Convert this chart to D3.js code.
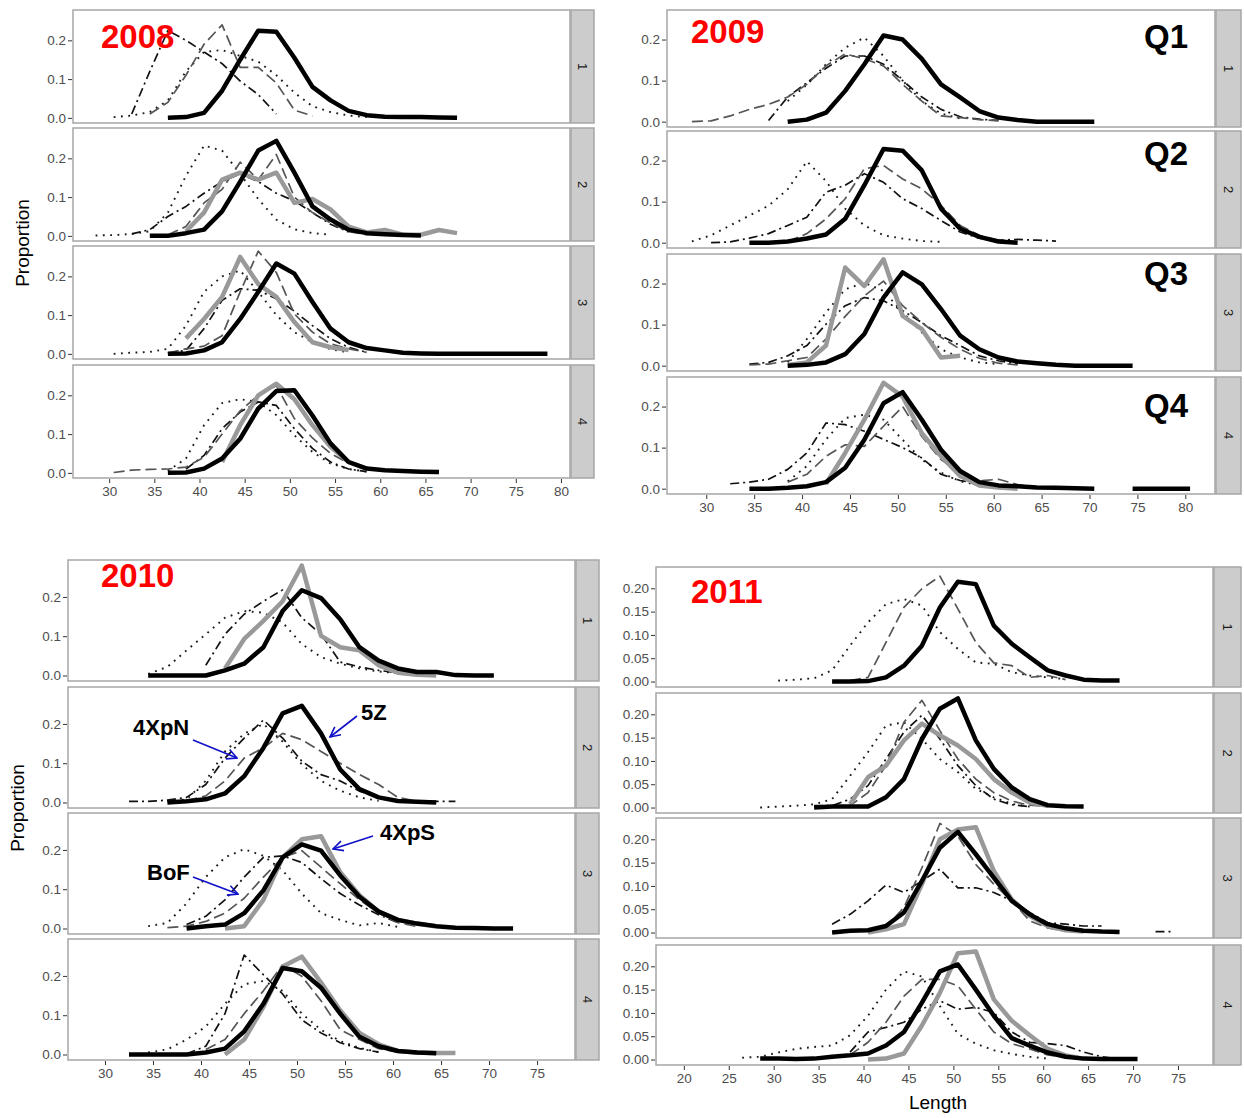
<!DOCTYPE html>
<html>
<head>
<meta charset="utf-8">
<script src="https://d3js.org/d3.v7.min.js"></script>
<title>Length frequency by quarter, 2008-2011</title>
<style>
  body { margin: 0; background: #fff; }
  text { font-family: "Liberation Sans", Arial, sans-serif; }
</style>
</head>
<body>
<div id="chart"></div>
<script>
// each row: [region, first 2-cm bin midpoint, proportions per bin] (null = no data)
var q2008_1 = [
  ["Other", 30.5, [0.002, 0.006, 0.015, 0.045, 0.12, 0.17, 0.175, 0.16, 0.145, 0.11, 0.065, 0.03, 0.015, 0.006, 0.002]],
  ["BoF", 32.5, [0.01, 0.12, 0.225, 0.2, 0.17, 0.14, 0.095, 0.06, 0.01]],
  ["4XpN", 34.5, [0.01, 0.04, 0.11, 0.19, 0.24, 0.13, 0.13, 0.09, 0.02, 0.005]],
  ["5Z", 36.5, [0, 0.002, 0.013, 0.07, 0.15, 0.225, 0.222, 0.155, 0.08, 0.045, 0.018, 0.007, 0.003, 0.002, 0.002, 0.001, 0]]
];
var q2008_2 = [
  ["Other", 28.5, [0.001, 0.002, 0.005, 0.012, 0.06, 0.155, 0.233, 0.22, 0.16, 0.095, 0.042, 0.017, 0.007, 0.003]],
  ["BoF", 32.5, [0.005, 0.016, 0.05, 0.076, 0.11, 0.14, 0.16, 0.14, 0.11, 0.09, 0.06, 0.03, 0.01]],
  ["4XpN", 36.5, [0.003, 0.024, 0.085, 0.12, 0.19, 0.145, 0.21, 0.1, 0.06, 0.033, 0.011, 0.003]],
  ["4XpS", 38.5, [0.012, 0.06, 0.145, 0.163, 0.145, 0.163, 0.085, 0.095, 0.068, 0.024, 0.009, 0.015, 0.003, 0.003, 0.015, 0.007]],
  ["5Z", 34.5, [0, 0, 0.007, 0.016, 0.063, 0.14, 0.22, 0.245, 0.163, 0.076, 0.042, 0.016, 0.007, 0.004, 0.002, 0.001]]
];
var q2008_3 = [
  ["Other", 30.5, [0, 0.003, 0.005, 0.013, 0.073, 0.16, 0.2, 0.215, 0.16, 0.1, 0.056, 0.03, 0.012, 0.004]],
  ["BoF", 36.5, [0.002, 0.009, 0.065, 0.138, 0.168, 0.164, 0.142, 0.11, 0.073, 0.039, 0.017, 0.004]],
  ["4XpN", 36.5, [0.002, 0.013, 0.02, 0.047, 0.16, 0.265, 0.21, 0.103, 0.056, 0.026, 0.013, 0.004]],
  ["4XpS", 38.5, [0.04, 0.09, 0.147, 0.25, 0.18, 0.147, 0.082, 0.03, 0.017, 0.01]],
  ["5Z", 36.5, [0, 0.001, 0.009, 0.03, 0.09, 0.16, 0.233, 0.207, 0.134, 0.065, 0.03, 0.015, 0.009, 0.003, 0.001, 0, 0, 0, 0, 0, 0, 0]]
];
var q2008_4 = [
  ["Other", 36.5, [0.005, 0.037, 0.123, 0.18, 0.19, 0.183, 0.149, 0.097, 0.054, 0.024, 0.01, 0.003]],
  ["BoF", 38.5, [0.01, 0.045, 0.114, 0.157, 0.183, 0.174, 0.114, 0.063, 0.028, 0.01, 0.003]],
  ["4XpN", 30.5, [0.001, 0.007, 0.009, 0.01, 0.015, 0.04, 0.1, 0.16, 0.2, 0.225, 0.14, 0.09, 0.05, 0.025, 0.01]],
  ["4XpS", 42.5, [0.028, 0.123, 0.2, 0.23, 0.19, 0.123, 0.067, 0.028, 0.011]],
  ["5Z", 36.5, [0, 0.001, 0.011, 0.037, 0.088, 0.166, 0.211, 0.213, 0.148, 0.076, 0.028, 0.011, 0.007, 0.005, 0.003, 0.002]]
];

var q2009_1 = [
  ["Other", 38.5, [0.05, 0.09, 0.14, 0.18, 0.205, 0.16, 0.1, 0.05, 0.02, 0.008]],
  ["BoF", 36.5, [0.003, 0.06, 0.095, 0.13, 0.16, 0.16, 0.14, 0.1, 0.06, 0.03, 0.012, 0.006, 0.003]],
  ["4XpN", 28.5, [0, 0.002, 0.014, 0.03, 0.042, 0.06, 0.091, 0.136, 0.165, 0.153, 0.136, 0.091, 0.05, 0.014, 0.01, 0.005, 0.002]],
  ["5Z", 38.5, [0, 0.005, 0.022, 0.075, 0.14, 0.21, 0.2, 0.153, 0.091, 0.059, 0.026, 0.01, 0.004, 0, 0, 0, 0]]
];
var q2009_2 = [
  ["Other", 28.5, [0.003, 0.018, 0.042, 0.066, 0.09, 0.13, 0.198, 0.15, 0.083, 0.042, 0.018, 0.01, 0.004, 0.002]],
  ["BoF", 30.5, [0, 0.002, 0.011, 0.022, 0.042, 0.062, 0.123, 0.14, 0.168, 0.147, 0.107, 0.083, 0.054, 0.026, 0.011, 0.006, 0.008, 0.006, 0.004]],
  ["4XpN", 38.5, [0.003, 0.022, 0.058, 0.107, 0.18, 0.188, 0.155, 0.131, 0.091, 0.042, 0.018, 0.006, 0.002]],
  ["5Z", 34.5, [0, 0, 0.003, 0.01, 0.02, 0.058, 0.14, 0.228, 0.224, 0.176, 0.083, 0.034, 0.014, 0.003, 0]]
];
var q2009_3 = [
  ["Other", 38.5, [0.008, 0.065, 0.13, 0.186, 0.202, 0.182, 0.13, 0.081, 0.04, 0.02, 0.008, 0.004]],
  ["BoF", 34.5, [0.004, 0.008, 0.024, 0.049, 0.101, 0.146, 0.166, 0.158, 0.134, 0.105, 0.073, 0.049, 0.024, 0.012, 0.004]],
  ["4XpN", 34.5, [0.002, 0.004, 0.012, 0.02, 0.065, 0.12, 0.17, 0.206, 0.146, 0.105, 0.069, 0.04, 0.018, 0.006, 0.002]],
  ["4XpS", 38.5, [0.002, 0.008, 0.049, 0.239, 0.194, 0.259, 0.121, 0.089, 0.02, 0.024]],
  ["5Z", 38.5, [0, 0.002, 0.008, 0.028, 0.077, 0.166, 0.227, 0.198, 0.138, 0.073, 0.04, 0.02, 0.01, 0.006, 0.002, 0, 0, 0, 0]]
];
var q2009_4 = [
  ["Other", 38.5, [0.018, 0.055, 0.12, 0.172, 0.18, 0.168, 0.119, 0.071, 0.039, 0.018, 0.008, 0.003]],
  ["BoF", 32.5, [0.012, 0.016, 0.023, 0.047, 0.087, 0.16, 0.156, 0.14, 0.12, 0.1, 0.075, 0.035, 0.02, 0.012, 0.006]],
  ["4XpN", 38.5, [0.016, 0.035, 0.079, 0.107, 0.103, 0.152, 0.2, 0.127, 0.071, 0.039, 0.019, 0.023, 0.01, 0.003]],
  ["4XpS", 42.5, [0.012, 0.087, 0.168, 0.258, 0.224, 0.135, 0.079, 0.031, 0.008, 0.003, 0]],
  ["5Z", 34.5, [0, 0, 0.002, 0.006, 0.016, 0.051, 0.119, 0.208, 0.235, 0.168, 0.095, 0.043, 0.016, 0.008, 0.006, 0.003, 0.002, 0.001, 0, null, 0, 0, 0, 0]]
];

var q2010_1 = [
  ["Other", 34.5, [0.004, 0.022, 0.064, 0.105, 0.147, 0.164, 0.16, 0.135, 0.08, 0.047, 0.03, 0.018, 0.01, 0.006, 0.003]],
  ["BoF", 40.5, [0.026, 0.105, 0.156, 0.189, 0.218, 0.147, 0.105, 0.034, 0.022, 0.013, 0.007, 0.004]],
  ["4XpS", 42.5, [0.018, 0.093, 0.139, 0.189, 0.28, 0.101, 0.072, 0.064, 0.026, 0.007, 0.002, 0]],
  ["5Z", 34.5, [0, 0, 0, 0, 0.013, 0.03, 0.072, 0.164, 0.217, 0.197, 0.143, 0.072, 0.038, 0.018, 0.009, 0.009, 0.001, 0, 0]]
];
var q2010_2 = [
  ["Other", 36.5, [0.003, 0.008, 0.055, 0.13, 0.175, 0.2, 0.155, 0.097, 0.055, 0.03, 0.013, 0.004]],
  ["BoF", 32.5, [0.003, 0.003, 0.006, 0.013, 0.046, 0.113, 0.164, 0.21, 0.164, 0.105, 0.071, 0.055, 0.029, 0.013, 0.006, 0.003, 0.003, 0.003]],
  ["4XpN", 38.5, [0.004, 0.017, 0.055, 0.113, 0.139, 0.176, 0.16, 0.13, 0.1, 0.071, 0.046, 0.013, 0.003]],
  ["5Z", 36.5, [0, 0.003, 0.008, 0.023, 0.067, 0.139, 0.227, 0.246, 0.176, 0.084, 0.034, 0.013, 0.004, 0.002, 0]]
];
var q2010_3 = [
  ["Other", 34.5, [0.006, 0.014, 0.064, 0.131, 0.181, 0.202, 0.185, 0.148, 0.089, 0.039, 0.022, 0.008, 0.014, 0.004]],
  ["BoF", 38.5, [0.01, 0.031, 0.073, 0.131, 0.181, 0.185, 0.168, 0.127, 0.089, 0.06, 0.035, 0.015]],
  ["4XpN", 36.5, [0.002, 0.006, 0.018, 0.039, 0.077, 0.131, 0.181, 0.198, 0.156, 0.114, 0.073, 0.039, 0.015, 0.005]],
  ["4XpS", 42.5, [0, 0.006, 0.073, 0.181, 0.227, 0.235, 0.143, 0.085, 0.043, 0.022, 0.012, 0.005]],
  ["5Z", 38.5, [0, 0.006, 0.01, 0.039, 0.097, 0.181, 0.214, 0.198, 0.135, 0.081, 0.043, 0.022, 0.0125, 0.006, 0.002, 0.001, 0, 0]]
];
var q2010_4 = [
  ["Other", 34.5, [0.005, 0.013, 0.038, 0.071, 0.129, 0.179, 0.187, 0.162, 0.104, 0.063, 0.034, 0.017, 0.006]],
  ["BoF", 38.5, [0.002, 0.021, 0.104, 0.253, 0.203, 0.154, 0.088, 0.055, 0.03, 0.015, 0.006]],
  ["4XpN", 40.5, [0.013, 0.038, 0.104, 0.162, 0.228, 0.199, 0.137, 0.063, 0.038, 0.015, 0.006]],
  ["4XpS", 42.5, [0, 0.038, 0.121, 0.224, 0.249, 0.183, 0.112, 0.055, 0.026, 0.009, 0.005, 0.004, 0.004]],
  ["5Z", 32.5, [0, 0, 0, 0, 0.005, 0.015, 0.059, 0.129, 0.22, 0.212, 0.17, 0.104, 0.045, 0.021, 0.009, 0.005, 0.003]]
];

var q2011_1 = [
  ["Other", 30.5, [0.002, 0.004, 0.007, 0.024, 0.077, 0.127, 0.166, 0.177, 0.163, 0.106, 0.07, 0.041, 0.038, 0.02, 0.013, 0.009, 0.005]],
  ["4XpN", 38.5, [0.002, 0.009, 0.084, 0.159, 0.199, 0.226, 0.156, 0.084, 0.04, 0.034, 0.009, 0.013, 0.004]],
  ["5Z", 36.5, [0, 0, 0.001, 0.009, 0.034, 0.077, 0.159, 0.214, 0.209, 0.12, 0.081, 0.052, 0.024, 0.013, 0.004, 0.002, 0.002]]
];
var q2011_2 = [
  ["Other", 28.5, [0, 0.002, 0.004, 0.007, 0.018, 0.068, 0.119, 0.176, 0.183, 0.147, 0.104, 0.076, 0.04, 0.022, 0.008, 0.002]],
  ["BoF", 34.5, [0.004, 0.004, 0.018, 0.047, 0.104, 0.162, 0.198, 0.147, 0.09, 0.047, 0.018, 0.006, 0.002]],
  ["4XpN", 36.5, [0.001, 0.004, 0.032, 0.09, 0.183, 0.23, 0.165, 0.104, 0.061, 0.032, 0.014, 0.005, 0.002]],
  ["4XpS", 38.5, [0.007, 0.065, 0.09, 0.144, 0.18, 0.155, 0.133, 0.104, 0.061, 0.032, 0.011, 0.004]],
  ["5Z", 34.5, [0, 0.002, 0.002, 0.002, 0.022, 0.061, 0.147, 0.212, 0.234, 0.144, 0.083, 0.043, 0.018, 0.005, 0.003, 0.002]]
];
var q2011_3 = [
  ["BoF", 36.5, [0.018, 0.039, 0.068, 0.102, 0.086, 0.111, 0.136, 0.096, 0.096, 0.086, 0.068, 0.043, 0.021, 0.018, 0.014, 0.014, null, null, 0.002, 0.002]],
  ["4XpN", 40.5, [0.002, 0.011, 0.054, 0.139, 0.234, 0.207, 0.146, 0.104, 0.068, 0.025, 0.01, 0.003]],
  ["4XpS", 40.5, [0, 0.007, 0.018, 0.104, 0.2, 0.221, 0.226, 0.132, 0.071, 0.036, 0.014, 0.005, 0.002]],
  ["5Z", 36.5, [0, 0.004, 0.005, 0.014, 0.043, 0.111, 0.182, 0.216, 0.168, 0.118, 0.068, 0.039, 0.018, 0.009, 0.004, 0.002, 0.001]]
];
var q2011_4 = [
  ["Other", 26.5, [0.004, 0.006, 0.015, 0.023, 0.027, 0.03, 0.052, 0.094, 0.15, 0.189, 0.178, 0.115, 0.055, 0.034, 0.02, 0.012, 0.006, 0.002]],
  ["BoF", 38.5, [0.016, 0.059, 0.069, 0.08, 0.108, 0.126, 0.108, 0.112, 0.101, 0.059, 0.037, 0.034, 0.03, 0.016, 0.006, 0.001]],
  ["4XpN", 38.5, [0.01, 0.037, 0.08, 0.136, 0.172, 0.172, 0.158, 0.108, 0.059, 0.034, 0.023, 0.01, 0.004]],
  ["4XpS", 40.5, [0, 0.002, 0.013, 0.073, 0.143, 0.228, 0.232, 0.129, 0.083, 0.052, 0.023, 0.009, 0.002]],
  ["5Z", 28.5, [0.002, 0.002, 0.001, 0.002, 0.006, 0.009, 0.013, 0.03, 0.059, 0.122, 0.189, 0.204, 0.15, 0.094, 0.046, 0.03, 0.015, 0.006, 0.002, 0.001, 0.001, 0.001]]
];

var years = ["2008", "2009", "2010", "2011"];
var quarterLabels = ["1", "2", "3", "4"];
var xTicks2008 = [30, 35, 40, 45, 50, 55, 60, 65, 70, 75, 80];
var xTicks2010 = [30, 35, 40, 45, 50, 55, 60, 65, 70, 75];
var xTicks2011 = [20, 25, 30, 35, 40, 45, 50, 55, 60, 65, 70, 75];
var yTicksTenth = [0, 0.1, 0.2];
var yTicksTwentieth = [0, 0.05, 0.1, 0.15, 0.2];

// line look per region, drawn in this order
var regionStyle = {
  "Other": { color: "#1a1a1a", width: 1.9, dash: "1.8,5.5" },
  "BoF":   { color: "#111", width: 1.7, dash: "9,4,2,4" },
  "4XpN":  { color: "#555", width: 1.7, dash: "11,5" },
  "4XpS":  { color: "#999", width: 4.5, dash: null },
  "5Z":    { color: "#000", width: 4.5, dash: null }
};
var drawOrder = ["Other", "BoF", "4XpN", "4XpS", "5Z"];

// where each year sits on the page
var blocks = [
  { data: [q2008_1, q2008_2, q2008_3, q2008_4], left: 73, right: 570, tops: [10, 128, 246, 365], h: 113, strip: 23,
    xDomain: [26, 81], xTicks: xTicks2008, yTicks: yTicksTenth, yFmt: ".1f",
    title: { x: 101, y: 48 } },
  { data: [q2009_1, q2009_2, q2009_3, q2009_4], left: 667, right: 1215, tops: [10, 131, 254, 377], h: 117, strip: 25,
    xDomain: [25.9, 83.1], xTicks: xTicks2008, yTicks: yTicksTenth, yFmt: ".1f",
    title: { x: 691, y: 43 }, qLabels: true },
  { data: [q2010_1, q2010_2, q2010_3, q2010_4], left: 68, right: 575, tops: [560, 687, 813, 939], h: 121, strip: 23,
    xDomain: [26.15, 78.95], xTicks: xTicks2010, yTicks: yTicksTenth, yFmt: ".1f",
    title: { x: 101, y: 587 } },
  { data: [q2011_1, q2011_2, q2011_3, q2011_4], left: 656, right: 1213, tops: [567, 693, 818, 945], h: 120, strip: 27,
    xDomain: [16.9, 78.9], xTicks: xTicks2011, yTicks: yTicksTwentieth, yFmt: ".2f",
    title: { x: 691, y: 603 } }
];

var svg = d3.select("#chart").append("svg")
  .attr("width", 1244).attr("height", 1118);

var line = d3.line()
  .defined(function(d) { return d.v != null; })
  .x(function(d) { return d.sx; })
  .y(function(d) { return d.sy; });

blocks.forEach(function(b, bi) {
  var x = d3.scaleLinear().domain(b.xDomain).range([b.left, b.right]);
  var ymax = d3.max(b.data, function(q) { return d3.max(q, function(r) { return d3.max(r[2]); }); });
  var yDomain = [-0.05 * ymax, ymax * 1.05];

  b.data.forEach(function(q, qi) {
    var top = b.tops[qi];
    var y = d3.scaleLinear().domain(yDomain).range([top + b.h, top]);
    var g = svg.append("g");

    var clipId = "clip" + bi + qi;
    g.append("clipPath").attr("id", clipId).append("rect")
      .attr("x", b.left).attr("y", top).attr("width", b.right - b.left).attr("height", b.h);

    var rows = drawOrder.map(function(name) {
      return q.filter(function(r) { return r[0] === name; })[0];
    }).filter(Boolean);

    g.append("g").attr("clip-path", "url(#" + clipId + ")")
      .selectAll("path").data(rows).enter().append("path")
      .attr("fill", "none")
      .attr("stroke", function(r) { return regionStyle[r[0]].color; })
      .attr("stroke-width", function(r) { return regionStyle[r[0]].width; })
      .attr("stroke-dasharray", function(r) { return regionStyle[r[0]].dash; })
      .attr("stroke-linejoin", "round")
      .attr("d", function(r) {
        var pts = r[2].map(function(v, i) {
          var len = r[1] + 2 * i;
          return { v: v, sx: x(len), sy: v == null ? 0 : y(v) };
        });
        return line(pts);
      });

    // panel border
    g.append("rect")
      .attr("x", b.left).attr("y", top).attr("width", b.right - b.left).attr("height", b.h)
      .attr("fill", "none").attr("stroke", "#a6a6a6").attr("stroke-width", 1.5);

    // facet strip on the right
    g.append("rect")
      .attr("x", b.right + 1).attr("y", top).attr("width", b.strip).attr("height", b.h)
      .attr("fill", "#cccccc").attr("stroke", "#a6a6a6").attr("stroke-width", 1.5);
    g.append("text")
      .attr("transform", "translate(" + (b.right + 1 + b.strip / 2) + "," + (top + b.h / 2) + ") rotate(90)")
      .attr("text-anchor", "middle").attr("dy", "0.35em")
      .attr("font-size", 13).attr("fill", "#1a1a1a")
      .text(quarterLabels[qi]);

    // y axis
    var yAxis = g.append("g")
      .attr("transform", "translate(" + (b.left - 1) + ",0)")
      .call(d3.axisLeft(y).tickValues(b.yTicks).tickFormat(d3.format(b.yFmt)).tickSize(4).tickPadding(2));
    yAxis.select(".domain").remove();
    yAxis.selectAll(".tick line").attr("stroke", "#333").attr("stroke-width", 1);
    yAxis.selectAll(".tick text").attr("font-size", 13.5).attr("fill", "#4d4d4d")
      .attr("font-family", "Liberation Sans, Arial, sans-serif");

    if (b.qLabels) {
      g.append("text")
        .attr("x", 1144).attr("y", [48, 165, 285, 417][qi])
        .attr("font-size", 33).attr("font-weight", "bold").attr("fill", "#000")
        .text("Q" + quarterLabels[qi]);
    }
  });

  // x axis under the last panel
  var bottom = b.tops[3] + b.h;
  var xAxis = svg.append("g")
    .attr("transform", "translate(0," + (bottom + 1) + ")")
    .call(d3.axisBottom(x).tickValues(b.xTicks).tickSize(4).tickPadding(3));
  xAxis.select(".domain").remove();
  xAxis.selectAll(".tick line").attr("stroke", "#333").attr("stroke-width", 1);
  xAxis.selectAll(".tick text").attr("font-size", 13.5).attr("fill", "#4d4d4d")
    .attr("font-family", "Liberation Sans, Arial, sans-serif");

  // year label
  svg.append("text")
    .attr("x", b.title.x).attr("y", b.title.y)
    .attr("font-size", 33).attr("font-weight", "bold").attr("fill", "#ff0000")
    .text(years[bi]);
});

// axis titles
svg.append("text").attr("transform", "translate(29,243) rotate(-90)")
  .attr("text-anchor", "middle").attr("font-size", 19).attr("fill", "#000").text("Proportion");
svg.append("text").attr("transform", "translate(24,808) rotate(-90)")
  .attr("text-anchor", "middle").attr("font-size", 19).attr("fill", "#000").text("Proportion");
svg.append("text").attr("x", 938).attr("y", 1109)
  .attr("text-anchor", "middle").attr("font-size", 19).attr("fill", "#000").text("Length");

// region call-outs in 2010
var callouts = [
  { label: "4XpN", tx: 133, ty: 735, x1: 193, y1: 740, x2: 237, y2: 758 },
  { label: "5Z", tx: 361, ty: 720, x1: 357, y1: 716, x2: 330, y2: 737 },
  { label: "4XpS", tx: 380, ty: 840, x1: 373, y1: 836, x2: 333, y2: 849 },
  { label: "BoF", tx: 147, ty: 880, x1: 193, y1: 877, x2: 238, y2: 894 }
];
svg.append("defs").append("marker")
  .attr("id", "arrow").attr("viewBox", "0 0 12 12").attr("refX", 11).attr("refY", 6)
  .attr("markerWidth", 12).attr("markerHeight", 12).attr("markerUnits", "userSpaceOnUse")
  .attr("orient", "auto")
  .append("path").attr("d", "M1,1 L11,6 L1,11").attr("fill", "none")
  .attr("stroke", "#1010c8").attr("stroke-width", 1.6);

callouts.forEach(function(c) {
  svg.append("text").attr("x", c.tx).attr("y", c.ty)
    .attr("font-size", 22).attr("font-weight", "bold").attr("fill", "#000").text(c.label);
  svg.append("line").attr("x1", c.x1).attr("y1", c.y1).attr("x2", c.x2).attr("y2", c.y2)
    .attr("stroke", "#1010c8").attr("stroke-width", 1.6).attr("marker-end", "url(#arrow)");
});
</script>
</body>
</html>
